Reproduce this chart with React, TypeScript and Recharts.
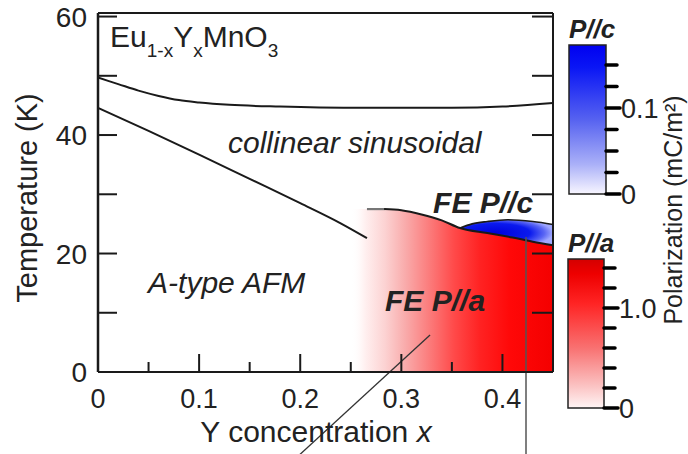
import React from 'react';
import {
  ComposedChart,
  Line,
  Area,
  XAxis,
  YAxis,
  ReferenceDot,
  ReferenceLine,
  BarChart,
  Bar,
} from 'recharts';

const FONT = '"Liberation Sans", Arial, Helvetica, sans-serif';
const INK = '#1a1a1a';

// ---------- axes ----------
const xTicks = [0, 0.05, 0.1, 0.15, 0.2, 0.25, 0.3, 0.35, 0.4, 0.45];
const xTickLabels: Record<string, string> = { '0': '0', '0.1': '0.1', '0.2': '0.2', '0.3': '0.3', '0.4': '0.4' };
const yTicks = [0, 10, 20, 30, 40, 50, 60];
const yTickLabels: Record<string, string> = { '0': '0', '20': '20', '40': '40', '60': '60' };

// ---------- phase boundaries (x = Y concentration, t = temperature K) ----------
const upperBoundary = [
  { x: 0, t: 49.7 }, { x: 0.02, t: 48.6 }, { x: 0.04, t: 47.5 }, { x: 0.06, t: 46.6 },
  { x: 0.08, t: 45.9 }, { x: 0.1, t: 45.5 }, { x: 0.13, t: 45.1 }, { x: 0.18, t: 44.8 },
  { x: 0.25, t: 44.6 }, { x: 0.35, t: 44.6 }, { x: 0.4, t: 44.8 }, { x: 0.45, t: 45.4 },
];
const afmBoundary = [
  { x: 0, t: 44.6 }, { x: 0.05, t: 40.7 }, { x: 0.1, t: 36.7 }, { x: 0.15, t: 32.6 },
  { x: 0.2, t: 28.5 }, { x: 0.24, t: 25.1 }, { x: 0.266, t: 22.6 },
];
const feLeadIn = [{ x: 0.266, t: 27.5 }, { x: 0.284, t: 27.5 }];
const feBoundary = [
  { x: 0.283, t: 27.5 }, { x: 0.3, t: 27.3 }, { x: 0.32, t: 26.6 },
  { x: 0.34, t: 25.6 }, { x: 0.358, t: 24.3 }, { x: 0.385, t: 23.45 }, { x: 0.41, t: 22.7 },
  { x: 0.43, t: 22.0 }, { x: 0.45, t: 21.4 },
];
const pcUpperBoundary = [
  { x: 0.358, t: 24.3 }, { x: 0.37, t: 25.0 }, { x: 0.385, t: 25.4 }, { x: 0.405, t: 25.7 },
  { x: 0.43, t: 25.4 }, { x: 0.45, t: 24.9 },
];
// FE P//a region (under the FE boundary)
const paRegion = [
  { x: 0.25, t: 27.5 }, { x: 0.266, t: 27.5 }, { x: 0.283, t: 27.5 }, { x: 0.3, t: 27.3 },
  { x: 0.32, t: 26.6 }, { x: 0.34, t: 25.6 }, { x: 0.358, t: 24.3 }, { x: 0.385, t: 23.45 },
  { x: 0.41, t: 22.7 }, { x: 0.43, t: 22.0 }, { x: 0.45, t: 21.4 },
];
// FE P//c pocket (range low..high)
const pcRegion = [
  { x: 0.358, r: [24.3, 24.3] }, { x: 0.37, r: [23.9, 25.0] }, { x: 0.385, r: [23.45, 25.4] },
  { x: 0.405, r: [22.85, 25.7] }, { x: 0.43, r: [22.0, 25.4] }, { x: 0.45, r: [21.4, 24.9] },
];
// leader lines from the original figure
const diagonalLeader = [{ x: 0.3284, y: 6.25 }, { x: 0.196, y: -14.5 }];
const verticalLeader = [{ x: 0.4233, y: 22.8 }, { x: 0.4233, y: -14.5 }];

// ---------- colour bars ----------
const pcScale = [{ k: 'P//c', v: 0.1733 }];
const pcScaleTicks = [0, 0.025, 0.05, 0.075, 0.1, 0.125, 0.15];
const pcScaleLabels: Record<string, string> = { '0': '0', '0.1': '0.1' };
const paScale = [{ k: 'P//a', v: 1.49 }];
const paScaleTicks = [0, 0.2, 0.4, 0.6, 0.8, 1.0, 1.2, 1.4];
const paScaleLabels: Record<string, string> = { '0': '0', '1': '1.0' };

const LeftTick = (props: any) => {
  const { x, y, payload } = props;
  const label = yTickLabels[String(payload.value)];
  return (
    <g>
      <line x1={x} y1={y} x2={x + 19} y2={y} stroke={INK} strokeWidth={2} />
      {label !== undefined && (
        <text x={x - 11} y={y} dy="0.36em" textAnchor="end" fontSize={28} fontFamily={FONT} fill="#222">
          {label}
        </text>
      )}
    </g>
  );
};

const BottomTick = (props: any) => {
  const { x, y, payload } = props;
  const label = xTickLabels[String(payload.value)];
  const len = label !== undefined ? 18 : 10;
  return (
    <g>
      <line x1={x} y1={y} x2={x} y2={y - len} stroke={INK} strokeWidth={2} />
      {label !== undefined && (
        <text x={x} y={y + 36} textAnchor="middle" fontSize={27} fontFamily={FONT} fill="#222">
          {label}
        </text>
      )}
    </g>
  );
};

const RightTick = (props: any) => {
  const { x, y } = props;
  return <line x1={x} y1={y} x2={x - 21} y2={y} stroke={INK} strokeWidth={2} />;
};

const makeBarTick = (labels: Record<string, string>) => (props: any) => {
  const { x, y, payload } = props;
  const label = labels[String(payload.value)];
  return (
    <g>
      <line x1={x} y1={y} x2={x + (label !== undefined ? 14 : 11)} y2={y} stroke="#000" strokeWidth={3.5} strokeLinecap="round" />
      {label !== undefined && (
        <text x={x + 15} y={y} dy="0.36em" textAnchor="start" fontSize={27} fontFamily={FONT} fill="#222">
          {label}
        </text>
      )}
    </g>
  );
};

const textShape = (content: React.ReactNode, opts: { size: number; italic?: boolean; bold?: boolean }) =>
  (p: any) => (
    <text
      x={p.cx}
      y={p.cy}
      fontSize={opts.size}
      fontFamily={FONT}
      fontStyle={opts.italic ? 'italic' : 'normal'}
      fontWeight={opts.bold ? 'bold' : 'normal'}
      fill="#222"
    >
      {content}
    </text>
  );

export default function App() {
  return (
    <div style={{ position: 'absolute', left: 0, top: 0, width: 688, height: 454, background: '#fff', overflow: 'hidden' }}>
      <div style={{ position: 'absolute', left: 0, top: 0 }}>
        <ComposedChart width={688} height={454} margin={{ top: 12, right: 134, bottom: 0, left: 0 }}>
          <defs>
            <linearGradient id="paGrad" x1="0" y1="0" x2="1" y2="0">
              <stop offset="0" stopColor="#ffffff" stopOpacity={0} />
              <stop offset="0.07" stopColor="#fff0f0" />
              <stop offset="0.17" stopColor="#fcd2d2" />
              <stop offset="0.27" stopColor="#f9abab" />
              <stop offset="0.39" stopColor="#fb7b7b" />
              <stop offset="0.51" stopColor="#ff4a4a" />
              <stop offset="0.64" stopColor="#ff2222" />
              <stop offset="0.79" stopColor="#ff0808" />
              <stop offset="1" stopColor="#f40000" />
            </linearGradient>
            <radialGradient id="pcGrad" cx="0.38" cy="0.52" r="0.62">
              <stop offset="0" stopColor="#0000dd" />
              <stop offset="0.6" stopColor="#0a1aee" />
              <stop offset="0.85" stopColor="#5a66f4" />
              <stop offset="1" stopColor="#a0a8ff" />
            </radialGradient>
          </defs>
          <XAxis
            type="number"
            dataKey="x"
            domain={[0, 0.45]}
            ticks={xTicks}
            interval={0}
            tickSize={0}
            tickMargin={0}
            tickLine={false}
            height={82}
            axisLine={{ stroke: INK, strokeWidth: 2 }}
            tick={(p: any) => <BottomTick {...p} />}
          />
          <XAxis
            xAxisId="top"
            orientation="top"
            type="number"
            dataKey="x"
            domain={[0, 0.45]}
            height={1}
            tick={false}
            tickLine={false}
            axisLine={{ stroke: INK, strokeWidth: 2 }}
          />
          <YAxis
            type="number"
            domain={[0, 60.6]}
            ticks={yTicks}
            interval={0}
            width={98}
            tickSize={0}
            tickMargin={0}
            tickLine={false}
            axisLine={{ stroke: INK, strokeWidth: 2.5 }}
            tick={(p: any) => <LeftTick {...p} />}
          />
          <YAxis
            yAxisId="right"
            orientation="right"
            type="number"
            domain={[0, 60.6]}
            ticks={yTicks}
            interval={0}
            width={1}
            tickSize={0}
            tickMargin={0}
            tickLine={false}
            axisLine={{ stroke: INK, strokeWidth: 2 }}
            tick={(p: any) => <RightTick {...p} />}
          />

          <Area
            data={paRegion}
            dataKey="t"
            type="monotone"
            fill="url(#paGrad)"
            fillOpacity={1}
            stroke="none"
            isAnimationActive={false}
            dot={false}
            activeDot={false}
          />
          <Area
            data={pcRegion}
            dataKey="r"
            type="monotone"
            fill="url(#pcGrad)"
            fillOpacity={1}
            stroke="none"
            isAnimationActive={false}
            dot={false}
            activeDot={false}
          />

          <Line data={upperBoundary} dataKey="t" type="monotone" stroke={INK} strokeWidth={2} dot={false} activeDot={false} isAnimationActive={false} />
          <Line data={afmBoundary} dataKey="t" type="monotone" stroke={INK} strokeWidth={2} dot={false} activeDot={false} isAnimationActive={false} />
          <Line data={feLeadIn} dataKey="t" type="linear" stroke="#777" strokeWidth={2.2} dot={false} activeDot={false} isAnimationActive={false} />
          <Line data={feBoundary} dataKey="t" type="monotone" stroke={INK} strokeWidth={2} dot={false} activeDot={false} isAnimationActive={false} />
          <Line
            data={pcUpperBoundary}
            dataKey="t"
            xAxisId="top"
            yAxisId="right"
            type="monotone"
            stroke={INK}
            strokeWidth={1.6}
            dot={false}
            activeDot={false}
            isAnimationActive={false}
          />

          <ReferenceLine segment={diagonalLeader} stroke="#333" strokeWidth={1.3} ifOverflow="visible" />
          <ReferenceLine segment={verticalLeader} stroke="#555" strokeWidth={1.5} ifOverflow="visible" />

          <ReferenceDot
            x={0.0119}
            y={54.9}
            r={0}
            isFront
            shape={textShape(
              <>
                Eu
                <tspan fontSize={19} dy={10}>1-x</tspan>
                <tspan dy={-10}>Y</tspan>
                <tspan fontSize={19} dy={10}>x</tspan>
                <tspan dy={-10}>MnO</tspan>
                <tspan fontSize={19} dy={10}>3</tspan>
              </>,
              { size: 30 }
            )}
          />
          <ReferenceDot x={0.1286} y={37.0} r={0} isFront shape={textShape('collinear sinusoidal', { size: 30, italic: true })} />
          <ReferenceDot x={0.0495} y={13.3} r={0} isFront shape={textShape('A-type AFM', { size: 30, italic: true })} />
          <ReferenceDot x={0.2839} y={10.3} r={0} isFront shape={textShape('FE P//a', { size: 30, italic: true, bold: true })} />
          <ReferenceDot x={0.3314} y={26.8} r={0} isFront shape={textShape('FE P//c', { size: 30, italic: true, bold: true })} />
        </ComposedChart>
      </div>

      {/* P//c colour bar */}
      <div style={{ position: 'absolute', left: 540, top: 0 }}>
        <BarChart width={148} height={454} data={pcScale} margin={{ top: 45, right: 81, bottom: 260, left: 29 }} barCategoryGap={0}>
          <defs>
            <linearGradient id="pcScaleGrad" x1="0" y1="0" x2="0" y2="1">
              <stop offset="0" stopColor="#0000f0" />
              <stop offset="0.15" stopColor="#0a16f5" />
              <stop offset="0.5" stopColor="#5662f0" />
              <stop offset="0.8" stopColor="#aab0f8" />
              <stop offset="1" stopColor="#f8f6ff" />
            </linearGradient>
          </defs>
          <XAxis dataKey="k" hide />
          <YAxis
            orientation="right"
            type="number"
            domain={[0, 0.1733]}
            ticks={pcScaleTicks}
            interval={0}
            width={1}
            tickSize={0}
            tickMargin={0}
            tickLine={false}
            axisLine={false}
            tick={makeBarTick(pcScaleLabels)}
          />
          <Bar dataKey="v" fill="url(#pcScaleGrad)" stroke="#222" strokeWidth={1.5} isAnimationActive={false} />
        </BarChart>
      </div>

      {/* P//a colour bar */}
      <div style={{ position: 'absolute', left: 540, top: 0 }}>
        <BarChart width={148} height={454} data={paScale} margin={{ top: 259, right: 83, bottom: 46, left: 28 }} barCategoryGap={0}>
          <defs>
            <linearGradient id="paScaleGrad" x1="0" y1="0" x2="0" y2="1">
              <stop offset="0" stopColor="#d40000" />
              <stop offset="0.1" stopColor="#ee0000" />
              <stop offset="0.3" stopColor="#ff2424" />
              <stop offset="0.6" stopColor="#f87272" />
              <stop offset="0.85" stopColor="#fbc2c2" />
              <stop offset="1" stopColor="#fff5f5" />
            </linearGradient>
          </defs>
          <XAxis dataKey="k" hide />
          <YAxis
            orientation="right"
            type="number"
            domain={[0, 1.49]}
            ticks={paScaleTicks}
            interval={0}
            width={1}
            tickSize={0}
            tickMargin={0}
            tickLine={false}
            axisLine={false}
            tick={makeBarTick(paScaleLabels)}
          />
          <Bar dataKey="v" fill="url(#paScaleGrad)" stroke="#222" strokeWidth={1.5} isAnimationActive={false} />
        </BarChart>
      </div>

      {/* titles */}
      <svg width={688} height={454} style={{ position: 'absolute', left: 0, top: 0, pointerEvents: 'none' }}>
        <text x={569} y={38} fontSize={26} fontFamily={FONT} fontStyle="italic" fontWeight="bold" fill="#222">P//c</text>
        <text x={568} y={252} fontSize={26} fontFamily={FONT} fontStyle="italic" fontWeight="bold" fill="#222">P//a</text>
        <text
          transform="translate(682,210) rotate(-90)"
          textAnchor="middle"
          fontSize={25}
          fontFamily={FONT}
          fill="#222"
        >
          Polarization (mC/m²)
        </text>
        <text
          transform="translate(37,198) rotate(-90)"
          textAnchor="middle"
          fontSize={29}
          fontFamily={FONT}
          fill="#222"
        >
          Temperature (K)
        </text>
        <text x={316} y={442} textAnchor="middle" fontSize={30} fontFamily={FONT} fill="#222">
          Y concentration <tspan fontStyle="italic">x</tspan>
        </text>
      </svg>
    </div>
  );
}
